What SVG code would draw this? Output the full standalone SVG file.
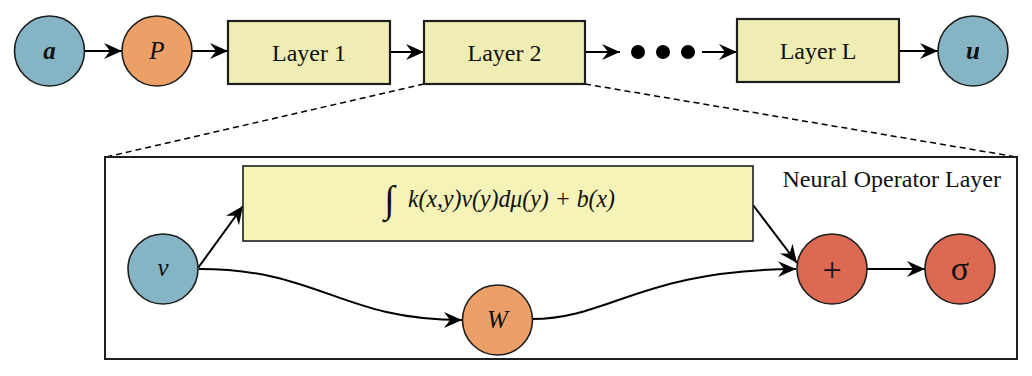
<svg xmlns="http://www.w3.org/2000/svg" width="1032" height="376" viewBox="0 0 1032 376">
<style>
.blue{fill:#85B4C5;stroke:#1e1e1e;stroke-width:1.6}
.orange{fill:#ECA068;stroke:#1e1e1e;stroke-width:1.6}
.red{fill:#DC6A53;stroke:#1e1e1e;stroke-width:1.6}
.layer{fill:#EFEDB4;stroke:#1e1e1e;stroke-width:2.2}
.intg{fill:#F5F3B8;stroke:#1e1e1e;stroke-width:1.6}
.frame{fill:none;stroke:#1e1e1e;stroke-width:2}
.t{font-family:"Liberation Serif","Times New Roman",serif;fill:#111;font-size:24px}
.it{font-family:"Liberation Serif","Times New Roman",serif;font-style:italic;fill:#111;font-size:25px}
.c{text-anchor:middle}
.edge{fill:none;stroke:#000;stroke-width:2;marker-end:url(#arr)}
.dash{fill:none;stroke:#000;stroke-width:1.5;stroke-dasharray:6 4}
</style>
<defs>
<marker id="arr" markerUnits="userSpaceOnUse" markerWidth="20" markerHeight="20" viewBox="-18 -10 20 20" refX="0" refY="0" orient="auto">
<path d="M0,0 L-18,-8 L-12,0 L-18,8 Z" fill="#000"/>
</marker>
</defs>
<rect width="1032" height="376" fill="#fff"/>
<g id="connectors">
<line class="edge" x1="84" y1="51" x2="122" y2="51"/>
<line class="edge" x1="192" y1="51" x2="228" y2="51"/>
<line class="edge" x1="390" y1="52" x2="424" y2="52"/>
<line class="edge" x1="585" y1="52" x2="620" y2="52"/>
<line class="edge" x1="702" y1="52" x2="737" y2="52"/>
<line class="edge" x1="899" y1="51" x2="938" y2="51"/>
<line class="dash" x1="424" y1="84" x2="106" y2="157"/>
<line class="dash" x1="585" y1="84" x2="1017" y2="157"/>
<line class="edge" x1="198" y1="268" x2="243" y2="206"/>
<line class="edge" x1="753" y1="205" x2="797" y2="263"/>
<path class="edge" d="M199,269 C320,269 340,320 462,320"/>
<path class="edge" d="M532,319 C610,319 640,270 796,269"/>
<line class="edge" x1="867" y1="269" x2="925" y2="269"/>
</g>
<g id="node-a"><circle class="blue" cx="49.5" cy="51" r="35"/><text class="it c" x="49.5" y="59" font-weight="bold">a</text></g>
<g id="node-P"><circle class="orange" cx="157" cy="51" r="35"/><text class="it c" x="157" y="59">P</text></g>
<g id="node-layer1"><rect class="layer" x="228" y="21" width="162" height="63"/><text class="t c" x="309" y="61">Layer 1</text></g>
<g id="node-layer2"><rect class="layer" x="424" y="21" width="161" height="63"/><text class="t c" x="504.5" y="61">Layer 2</text></g>
<g id="node-dots"><circle cx="638" cy="52" r="7" fill="#000"/><circle cx="663" cy="52" r="7" fill="#000"/><circle cx="688" cy="52" r="7" fill="#000"/></g>
<g id="node-layerL"><rect class="layer" x="737" y="19" width="162" height="63"/><text class="t c" x="818" y="59">Layer L</text></g>
<g id="node-u"><circle class="blue" cx="973" cy="51" r="35"/><text class="it c" x="973" y="59" font-weight="bold">u</text></g>
<g id="node-frame"><rect class="frame" x="105" y="157" width="912" height="202"/><text class="t" x="1001" y="187" text-anchor="end">Neural Operator Layer</text></g>
<g id="node-integral"><rect class="intg" x="243" y="166" width="510" height="75"/><text class="it" x="384" y="212" style="font-size:38px">∫</text><text class="it" x="408" y="207" textLength="207" lengthAdjust="spacingAndGlyphs">k(x,y)v(y)dμ(y) + b(x)</text></g>
<g id="node-v"><circle class="blue" cx="163" cy="269" r="35"/><text class="it c" x="163" y="276">v</text></g>
<g id="node-W"><circle class="orange" cx="497.5" cy="320" r="35"/><text class="it c" x="497.5" y="328">W</text></g>
<g id="node-plus"><circle class="red" cx="832" cy="269" r="35"/><text class="t c" x="832" y="281" style="font-size:34px">+</text></g>
<g id="node-sigma"><circle class="red" cx="960" cy="269" r="35"/><text class="t c" x="960" y="280" style="font-size:34px">σ</text></g>
</svg>
